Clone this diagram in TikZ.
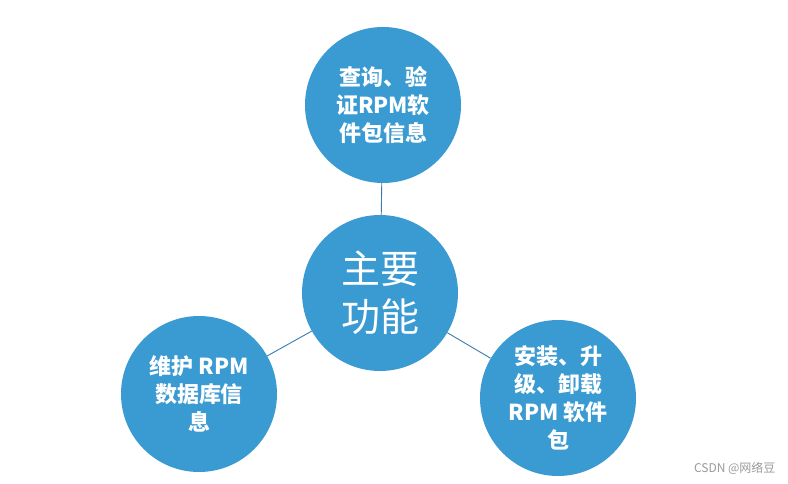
\documentclass[tikz,border=0pt]{standalone}
\usepackage{fontspec}
\newfontfamily\cjk{Noto Sans CJK SC}
\definecolor{cblue}{HTML}{3A9AD2}
\definecolor{lblue}{HTML}{3A7CB0}
\definecolor{wm}{HTML}{9A9A9A}
\begin{document}
\begin{tikzpicture}[x=1pt,y=-1pt,
  bub/.style={circle,fill=cblue,draw=none,minimum size=156pt,inner sep=0pt,text=white,align=center},
  outtxt/.style={font=\cjk\bfseries\fontsize{22}{28}\selectfont},
  link/.style={draw=lblue,line width=0.9pt}]
\useasboundingbox (0,0) rectangle (788,484);
\fill[white] (0,0) rectangle (788,484);
\node[bub,font=\cjk\fontsize{39}{48}\selectfont] (c) at (380,293) {主要\\功能};
\node[bub,outtxt] (t) at (383,105) {查询、验\\证RPM软\\件包信息};
\node[bub,outtxt] (l) at (199,394) {维护 RPM\\数据库信\\息};
\node[bub,outtxt] (r) at (558,398) {安装、升\\级、卸载\\RPM 软件\\包};
\path[link] (c) -- (t);
\path[link] (c) -- (l);
\path[link] (c) -- (r);
\node[font=\cjk\fontsize{12}{14}\selectfont,text=wm,anchor=east] (w) at (779,468) {CSDN @网络豆};
\end{tikzpicture}
\end{document}
